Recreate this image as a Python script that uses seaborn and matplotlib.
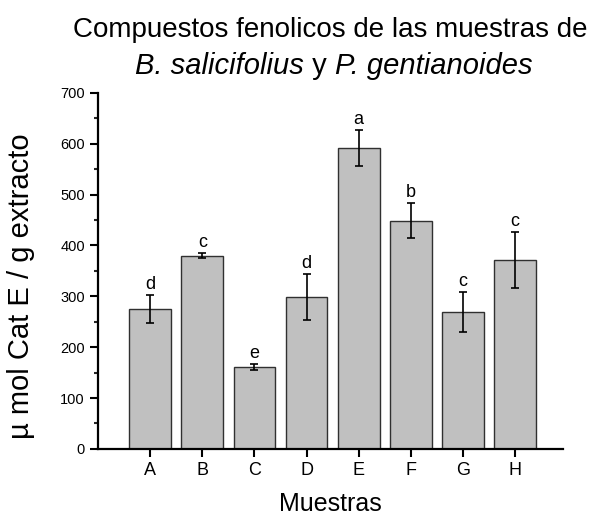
import numpy as np
import pandas as pd
import matplotlib
matplotlib.use("Agg")
import matplotlib.pyplot as plt
import seaborn as sns
from matplotlib.ticker import MultipleLocator
from matplotlib.offsetbox import TextArea, HPacker, AnnotationBbox

categories = ["A", "B", "C", "D", "E", "F", "G", "H"]
means = [275, 380, 161, 298, 592, 449, 269, 372]
errors = [27, 5, 6, 45, 35, 35, 40, 55]
letters = ["d", "c", "e", "d", "a", "b", "c", "c"]

sns.set_theme(style="ticks")
plt.rcParams["font.family"] = ["Liberation Sans", "DejaVu Sans"]

df = pd.DataFrame({"Muestra": categories, "valor": means})

fig = plt.figure(figsize=(6.01, 5.16), dpi=100)
ax = fig.add_axes([0.163, 0.130, 0.774, 0.690])

sns.barplot(data=df, x="Muestra", y="valor", color="#c0c0c0", saturation=1,
            edgecolor="#303030", linewidth=1.0, width=0.8, errorbar=None, ax=ax)
ax.errorbar(np.arange(len(categories)), means, yerr=errors, fmt="none",
            ecolor="black", elinewidth=1.2, capsize=3, capthick=1.2)

for i, (m, e, l) in enumerate(zip(means, errors, letters)):
    ax.text(i, m + e + 4, l, ha="center", va="bottom", fontsize=13, color="black")

ax.set_xlim(-1, 7.92)
ax.set_ylim(0, 700)
ax.yaxis.set_major_locator(MultipleLocator(100))
ax.yaxis.set_minor_locator(MultipleLocator(50))
ax.tick_params(axis="y", which="major", direction="out", length=6, width=1.5, labelsize=10.5, colors="black")
ax.tick_params(axis="y", which="minor", direction="out", length=3, width=1.5)
ax.tick_params(axis="x", which="major", direction="out", length=6, width=1.5, labelsize=13, colors="black")

for s in ["top", "right"]:
    ax.spines[s].set_visible(False)
for s in ["left", "bottom"]:
    ax.spines[s].set_linewidth(1.6)
    ax.spines[s].set_color("black")

ax.set_xlabel("Muestras", fontsize=18, color="black")
ax.xaxis.set_label_coords(0.5, -0.12)
ax.set_ylabel("µ mol Cat E / g extracto", fontsize=21, color="black")
ax.yaxis.set_label_coords(-0.135, 0.458)

# Title: line 1 plain, line 2 mixed italic / regular
cx = 0.163 + 0.774 / 2
fig.text(cx, 1 - 37 / 516, "Compuestos fenolicos de las muestras de",
         ha="center", va="baseline", fontsize=20, color="black")
tprops_it = dict(fontsize=21, fontstyle="italic", color="black")
tprops_rm = dict(fontsize=21, color="black")
line2 = HPacker(children=[TextArea("B. salicifolius", textprops=tprops_it),
                          TextArea(" y ", textprops=tprops_rm),
                          TextArea("P. gentianoides", textprops=tprops_it)],
                align="baseline", pad=0, sep=0)
ab = AnnotationBbox(line2, (cx + 0.005, 1 - 80 / 516), xycoords="figure fraction",
                    box_alignment=(0.5, 0.0), frameon=False, pad=0)
fig.add_artist(ab)

fig.savefig("out.png", dpi=100)
